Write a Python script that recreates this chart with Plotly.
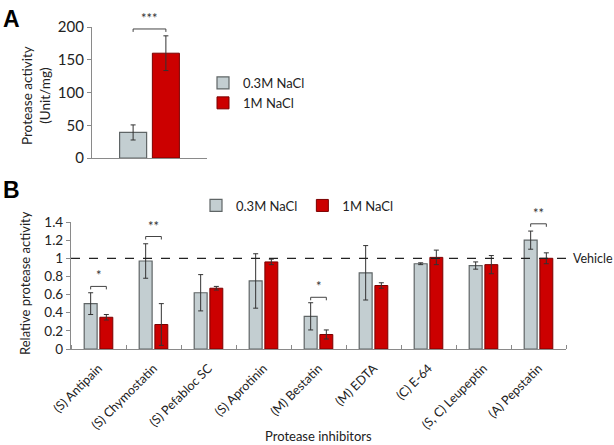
import plotly.graph_objects as go

# ---------------- Data ----------------
# Panel A
a_groups = ["0.3M NaCl", "1M NaCl"]
a_values = [39, 160]
a_errors = [11.5, 26.5]
a_sig_label = "***"
a_sig_y = 197

# Panel B
categories = ["(S) Antipain", "(S) Chymostatin", "(S) Pefabloc SC", "(S) Aprotinin",
              "(M) Bestatin", "(M) EDTA", "(C) E-64", "(S, C) Leupeptin", "(A) Pepstatin"]
low_salt = [0.50, 0.97, 0.62, 0.75, 0.36, 0.84, 0.94, 0.92, 1.20]
low_salt_err = [0.12, 0.19, 0.20, 0.30, 0.15, 0.30, 0.01, 0.04, 0.10]
high_salt = [0.35, 0.27, 0.67, 0.96, 0.16, 0.70, 1.01, 0.93, 1.00]
high_salt_err = [0.03, 0.23, 0.02, 0.03, 0.05, 0.03, 0.08, 0.10, 0.06]
sig_labels = ["*", "**", "", "", "*", "", "", "", "**"]
sig_y = [0.69, 1.24, None, None, 0.57, None, None, None, 1.38]
vehicle_level = 1.0

# ---------------- Style ----------------
W, H = 614, 445
FONT = "Lato"
GRAY_FILL = "#c3ced1"
GRAY_LINE = "#5f6566"
RED_FILL = "#cc0000"
RED_LINE = "#7a0000"
AXIS = "#8a8a8a"
ERR = "#333333"
TXT = "#222222"
BAR_W = 0.235
OFF_L, OFF_R = -0.2600, 0.025
CEN_L, CEN_R = OFF_L + BAR_W / 2, OFF_R + BAR_W / 2


def px(x):
    return x / W


def py(y):
    return 1 - y / H


fig = go.Figure()

# ---------- Panel A ----------
fig.add_trace(go.Bar(
    x=[0], y=[a_values[0]], width=BAR_W, offset=OFF_L, name=a_groups[0],
    marker=dict(color=GRAY_FILL, line=dict(color=GRAY_LINE, width=1.2)),
    error_y=dict(type="data", array=[a_errors[0]], color=ERR, thickness=1, width=2.5),
    xaxis="x", yaxis="y", legend="legend", showlegend=True))
fig.add_trace(go.Bar(
    x=[0], y=[a_values[1]], width=BAR_W, offset=OFF_R, name=a_groups[1],
    marker=dict(color=RED_FILL, line=dict(color=RED_LINE, width=1)),
    error_y=dict(type="data", array=[a_errors[1]], color=ERR, thickness=1, width=2.5),
    xaxis="x", yaxis="y", legend="legend", showlegend=True))

drop_a = 4.5
fig.add_trace(go.Scatter(
    x=[CEN_L, CEN_L, CEN_R, CEN_R], y=[a_sig_y - drop_a, a_sig_y, a_sig_y, a_sig_y - drop_a],
    mode="lines", line=dict(color="#444444", width=1), cliponaxis=False,
    hoverinfo="skip", showlegend=False, xaxis="x", yaxis="y"))
fig.add_annotation(x=0, y=a_sig_y, xref="x", yref="y", text=a_sig_label,
                   showarrow=False, yanchor="bottom", yshift=1,
                   font=dict(family=FONT, size=13, color="#333333"))

# ---------- Panel B ----------
xs = list(range(len(categories)))
fig.add_trace(go.Bar(
    x=xs, y=low_salt, width=BAR_W, offset=OFF_L, name="0.3M NaCl",
    marker=dict(color=GRAY_FILL, line=dict(color=GRAY_LINE, width=1.2)),
    error_y=dict(type="data", array=low_salt_err, color=ERR, thickness=1, width=2.5),
    xaxis="x2", yaxis="y2", legend="legend2", showlegend=True))
fig.add_trace(go.Bar(
    x=xs, y=high_salt, width=BAR_W, offset=OFF_R, name="1M NaCl",
    marker=dict(color=RED_FILL, line=dict(color=RED_LINE, width=1)),
    error_y=dict(type="data", array=high_salt_err, color=ERR, thickness=1, width=2.5),
    xaxis="x2", yaxis="y2", legend="legend2", showlegend=True))

drop_b = 0.033
bx, by = [], []
for i, (lab, yv) in enumerate(zip(sig_labels, sig_y)):
    if yv is None or not lab:
        continue
    bx += [i + CEN_L, i + CEN_L, i + CEN_R, i + CEN_R, None]
    by += [yv - drop_b, yv, yv, yv - drop_b, None]
    fig.add_annotation(x=i, y=yv, xref="x2", yref="y2", text=lab, showarrow=False,
                       yanchor="bottom", yshift=1,
                       font=dict(family=FONT, size=13, color="#333333"))
fig.add_trace(go.Scatter(
    x=bx, y=by, mode="lines", line=dict(color="#444444", width=1), cliponaxis=False,
    hoverinfo="skip", showlegend=False, xaxis="x2", yaxis="y2"))

fig.add_shape(type="line", xref="x2", yref="y2", x0=-0.5, x1=len(categories) - 0.5,
              y0=vehicle_level, y1=vehicle_level,
              line=dict(color="#222222", width=1.3, dash="dash"))
fig.add_annotation(x=px(571), y=vehicle_level, xref="paper", yref="y2", text="Vehicle",
                   showarrow=False, xanchor="left", yanchor="middle",
                   font=dict(family=FONT, size=12.5, color=TXT))

# ---------- Text annotations ----------
fig.add_annotation(x=px(1), y=py(4), xref="paper", yref="paper", text="<b>A</b>",
                   showarrow=False, xanchor="left", yanchor="top",
                   font=dict(family="Liberation Sans", size=23, color="#000000"))
fig.add_annotation(x=px(1), y=py(175), xref="paper", yref="paper", text="<b>B</b>",
                   showarrow=False, xanchor="left", yanchor="top",
                   font=dict(family="Liberation Sans", size=23, color="#000000"))
fig.add_annotation(x=px(36), y=py(96), xref="paper", yref="paper",
                   text="Protease activity<br>(Unit/mg)", textangle=-90,
                   showarrow=False, xanchor="center", yanchor="middle",
                   font=dict(family=FONT, size=13.5, color=TXT))
fig.add_annotation(x=px(25), y=py(283), xref="paper", yref="paper",
                   text="Relative protease activity", textangle=-90,
                   showarrow=False, xanchor="center", yanchor="middle",
                   font=dict(family=FONT, size=13, color=TXT))
fig.add_annotation(x=px(318), y=py(436), xref="paper", yref="paper",
                   text="Protease inhibitors",
                   showarrow=False, xanchor="center", yanchor="middle",
                   font=dict(family=FONT, size=13, color=TXT))

fig.update_layout(
    width=W, height=H,
    margin=dict(l=0, r=0, t=0, b=0, pad=0),
    paper_bgcolor="white", plot_bgcolor="white",
    font=dict(family=FONT, color=TXT),
    barmode="overlay",
    xaxis=dict(domain=[px(92), px(207)], range=[-0.5, 0.5], anchor="y", automargin=False,
               showline=True, linecolor=AXIS, linewidth=1.2,
               tickmode="array", tickvals=[-0.5, 0.5], showticklabels=False,
               ticks="inside", ticklen=5, tickcolor=AXIS, showgrid=False, zeroline=False),
    yaxis=dict(domain=[py(158), py(27)], range=[0, 200], anchor="x", automargin=False,
               dtick=50, showline=True, linecolor=AXIS, linewidth=1.2,
               ticks="outside", ticklen=4, tickcolor=AXIS,
               tickfont=dict(family=FONT, size=15, color=TXT),
               showgrid=False, zeroline=False),
    xaxis2=dict(domain=[px(71), px(566)], range=[-0.5, len(categories) - 0.5], anchor="y2",
                automargin=False,
                showline=True, linecolor=AXIS, linewidth=1.2,
                tickmode="array", tickvals=xs, ticktext=categories, ticks="",
                tickangle=-45, ticklabelstandoff=6,
                tickfont=dict(family=FONT, size=12.5, color=TXT),
                minor=dict(tickmode="array",
                           tickvals=[i - 0.5 for i in range(len(categories) + 1)],
                           ticks="inside", ticklen=4, tickcolor=AXIS, showgrid=False),
                showgrid=False, zeroline=False),
    yaxis2=dict(domain=[py(349), py(222)], range=[0, 1.4], anchor="x2", automargin=False,
                dtick=0.2, showline=True, linecolor=AXIS, linewidth=1.2,
                ticks="outside", ticklen=4, tickcolor=AXIS,
                tickfont=dict(family=FONT, size=13.5, color=TXT),
                showgrid=False, zeroline=False),
    legend=dict(x=px(203), y=py(93), xanchor="left", yanchor="middle",
                orientation="v", font=dict(family=FONT, size=13, color=TXT),
                bgcolor="rgba(0,0,0,0)", tracegroupgap=0, itemclick=False),
    legend2=dict(x=px(196), y=py(205.5), xanchor="left", yanchor="middle",
                 orientation="h", font=dict(family=FONT, size=13, color=TXT),
                 bgcolor="rgba(0,0,0,0)", itemclick=False),
    showlegend=True,
)

fig.write_html("out.html",
               config={"displayModeBar": False},
               post_script="document.body.style.margin='0';document.body.style.padding='0';")
